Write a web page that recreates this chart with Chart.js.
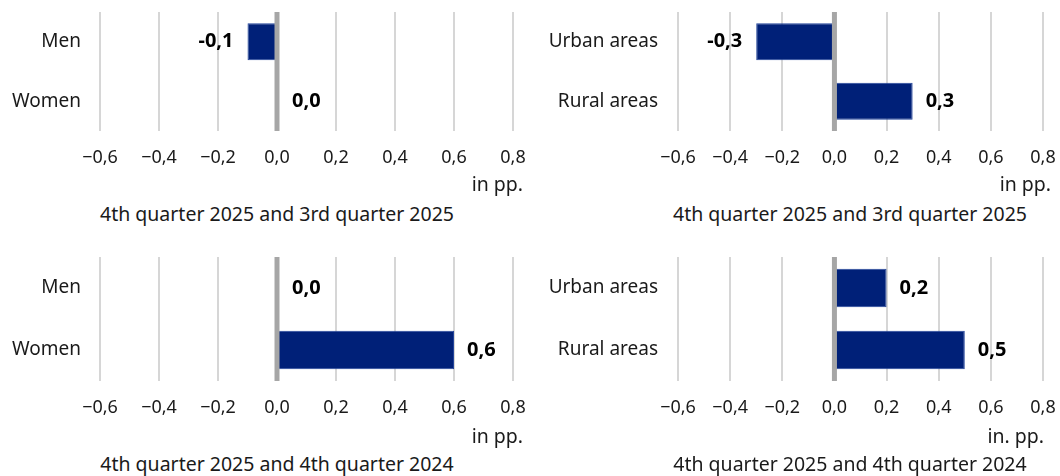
<!DOCTYPE html>
<html>
<head>
<meta charset="utf-8">
<script src="https://cdn.jsdelivr.net/npm/chart.js@4.4.1/dist/chart.umd.min.js"></script>
<style>
  body { margin: 0; background: #fff; width: 1060px; height: 476px; overflow: hidden; position: relative; font-family: 'Noto Sans', sans-serif; color: #1a1a1a; }
  canvas { position: absolute; }
  .txt { position: absolute; font-size: 19.5px; line-height: 18px; white-space: nowrap; }
  .unit { text-align: right; }
  .ptitle { text-align: center; width: 400px; }
</style>
</head>
<body>
<canvas id="c1" width="530" height="175" style="left:0;top:0"></canvas>
<canvas id="c2" width="530" height="175" style="left:530px;top:0"></canvas>
<canvas id="c3" width="530" height="185" style="left:0;top:240px"></canvas>
<canvas id="c4" width="530" height="185" style="left:530px;top:240px"></canvas>

<div class="txt unit" id="u1" style="right:537px;top:175px"></div>
<div class="txt unit" id="u2" style="right:9px;top:175px"></div>
<div class="txt unit" id="u3" style="right:537px;top:427px"></div>
<div class="txt unit" id="u4" style="right:16px;top:427px"></div>
<div class="txt ptitle" id="t1" style="left:77px;top:205px"></div>
<div class="txt ptitle" id="t2" style="left:650px;top:205px"></div>
<div class="txt ptitle" id="t3" style="left:77px;top:455px"></div>
<div class="txt ptitle" id="t4" style="left:650px;top:455px"></div>

<script>
// данные
const genderLabels = ['Men', 'Women'];
const areaLabels = ['Urban areas', 'Rural areas'];
const genderQoQ = [-0.1, 0.0];
const areaQoQ = [-0.3, 0.3];
const genderYoY = [0.0, 0.6];
const areaYoY = [0.2, 0.5];
const tickValues = [-0.6, -0.4, -0.2, 0.0, 0.2, 0.4, 0.6, 0.8];
const periodTitles = ['4th quarter 2025 and 3rd quarter 2025', '4th quarter 2025 and 4th quarter 2024'];
const unitLabels = ['in pp.', 'in pp.', 'in pp.', 'in. pp.'];

const fmt = v => v.toFixed(1).replace('.', ',');
const fmtTick = v => fmt(v).replace('-', '\u2212');

Chart.defaults.font.family = "'Noto Sans', sans-serif";
Chart.defaults.font.size = 19;
Chart.defaults.color = '#1a1a1a';

// нулевая линия и подписи значений поверх столбцов
const overlayPlugin = {
    id: 'overlay',
    afterDatasetsDraw(chart) {
        const ctx = chart.ctx;
        const xs = chart.scales.x;
        const area = chart.chartArea;
        const x0 = xs.getPixelForValue(0);
        ctx.save();
        ctx.strokeStyle = '#a6a6a6';
        ctx.lineWidth = 5;
        ctx.beginPath();
        ctx.moveTo(x0, area.top);
        ctx.lineTo(x0, area.bottom);
        ctx.stroke();

        ctx.font = "bold 20px 'Noto Sans', sans-serif";
        ctx.fillStyle = '#000';
        ctx.textBaseline = 'middle';
        const data = chart.data.datasets[0].data;
        chart.getDatasetMeta(0).data.forEach((bar, i) => {
            const v = data[i];
            if (v < 0) {
                ctx.textAlign = 'right';
                ctx.fillText(fmt(v), bar.x - 14, bar.y);
            } else {
                ctx.textAlign = 'left';
                ctx.fillText(fmt(v), Math.max(bar.x, x0 + 2) + 13, bar.y);
            }
        });
        ctx.restore();
    }
};

function makeChart(id, labels, values, opts) {
    new Chart(document.getElementById(id), {
        type: 'bar',
        data: {
            labels: labels,
            datasets: [{
                data: values,
                backgroundColor: '#002078',
                borderColor: '#23449a',
                borderWidth: 1,
                borderSkipped: false,
                categoryPercentage: 1,
                barPercentage: 0.62
            }]
        },
        options: {
            indexAxis: 'y',
            responsive: false,
            animation: false,
            devicePixelRatio: 1,
            layout: { padding: { left: 0, right: opts.padRight, top: opts.padTop, bottom: 0 } },
            plugins: { legend: { display: false }, tooltip: { enabled: false } },
            scales: {
                x: {
                    min: tickValues[0],
                    max: tickValues[tickValues.length - 1],
                    afterBuildTicks: s => { s.ticks = tickValues.map(v => ({ value: v })); },
                    // высота оси фиксирована, боковые отступы под подписи не нужны
                    afterFit: s => { s.height = 44; s.paddingLeft = 0; s.paddingRight = 0; },
                    border: { display: false },
                    grid: {
                        drawTicks: false,
                        lineWidth: 2,
                        color: c => Math.abs(c.tick.value) < 1e-9 ? 'rgba(0,0,0,0)' : '#d6d6d6'
                    },
                    ticks: { padding: 16, font: { size: 18 }, callback: v => fmtTick(v) }
                },
                y: {
                    // ширина оси фиксирована, вертикальные отступы убираем
                    afterFit: s => { s.width = opts.yWidth; s.paddingTop = 0; s.paddingBottom = 0; },
                    border: { display: false },
                    grid: { display: false, drawTicks: false },
                    ticks: { padding: opts.yPad }
                }
            }
        },
        plugins: [overlayPlugin]
    });
}

makeChart('c1', genderLabels, genderQoQ, { padRight: 17, padTop: 12, yWidth: 100, yPad: 19 });
makeChart('c2', areaLabels, areaQoQ, { padRight: 17, padTop: 12, yWidth: 148, yPad: 20 });
makeChart('c3', genderLabels, genderYoY, { padRight: 17, padTop: 17, yWidth: 100, yPad: 19 });
makeChart('c4', areaLabels, areaYoY, { padRight: 17, padTop: 17, yWidth: 148, yPad: 20 });

['u1', 'u2', 'u3', 'u4'].forEach((id, i) => { document.getElementById(id).textContent = unitLabels[i]; });
['t1', 't2', 't3', 't4'].forEach((id, i) => { document.getElementById(id).textContent = periodTitles[i < 2 ? 0 : 1]; });
</script>
</body>
</html>
